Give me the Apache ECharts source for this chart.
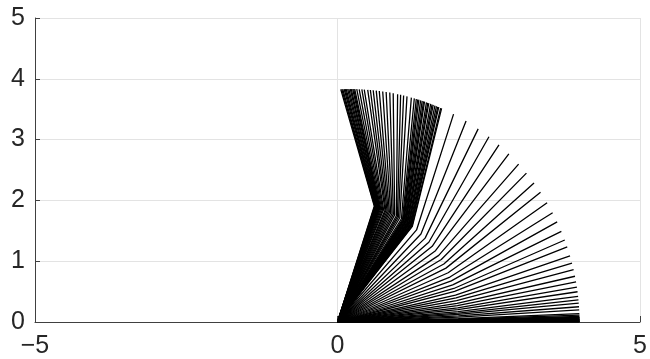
<!DOCTYPE html>
<html>
<head>
<meta charset="utf-8">
<script src="https://cdn.jsdelivr.net/npm/echarts@6/dist/echarts.min.js"></script>
<style>
html,body{margin:0;padding:0;background:#fff;}
#chart{width:650px;height:359px;}
</style>
</head>
<body>
<div id="chart"></div>
<script>
// Two-link arm snapshots (link lengths in data units)
const linkLength1 = 2;
const linkLength2 = 2;
// Joint angles (degrees) for each drawn snapshot
const theta1Deg = [
  72.3, 72.1, 71.9, 71.6, 71.4, 71.2, 70.9, 70.7, 70.4, 70.2, 69.9, 69.7, 69.5,
  69.1, 68.6, 68.1, 67.6, 66.9, 66.4, 65.8, 65.2, 64.6, 63.9, 63.2, 62.5, 61.8, 60.9, 60.3, 59.7, 59.0, 58.1,
  57.5, 57.1, 56.8, 56.6, 56.2, 55.9, 55.6, 55.4, 55.0, 54.7, 54.5, 54.1, 53.8, 53.6, 53.2, 52.9, 52.6, 52.4, 52.0, 51.8,
  49.2, 46.4, 43.6, 41.0, 38.5, 35.9, 33.2, 30.9, 28.5, 26.3, 23.9, 21.7, 19.8, 17.8, 16.0, 14.6, 12.8, 11.4, 10.1, 8.8,
  7.7, 6.7, 5.8, 4.9, 4.2, 3.6, 2.9, 2.3, 1.6, 1.3, 1.05,
  0.9, 0.81, 0.7, 0.61, 0.52, 0.45, 0.38, 0.32, 0.24, 0.16, 0.1, 0.06, 0.02, 0
];
const theta2Deg = [
  33.8, 33.7, 33.6, 33.5, 33.4, 33.3, 33.2, 33.0, 32.9, 32.8, 32.7, 32.6, 32.5,
  32.3, 32.1, 31.8, 31.6, 31.3, 31.0, 30.8, 30.5, 30.2, 29.9, 29.6, 29.2, 28.9, 28.5, 28.2, 27.9, 27.6, 27.2,
  26.9, 26.7, 26.6, 26.4, 26.3, 26.1, 26.0, 25.9, 25.7, 25.6, 25.5, 25.3, 25.2, 25.0, 24.9, 24.7, 24.6, 24.5, 24.3, 24.2,
  23.0, 21.7, 20.4, 19.2, 18.0, 16.8, 15.5, 14.4, 13.3, 12.3, 11.2, 10.2, 9.2, 8.3, 7.5, 6.8, 6.0, 5.3, 4.7, 4.1,
  3.6, 3.1, 2.7, 2.3, 2.0, 1.7, 1.4, 1.1, 0.76, 0.6, 0.49,
  0.42, 0.38, 0.33, 0.28, 0.24, 0.21, 0.18, 0.15, 0.11, 0.08, 0.05, 0.03, 0.01, 0
];
const xTickValues = [-5, 0, 5];
const yTickValues = [0, 1, 2, 3, 4, 5];

const rad = Math.PI / 180;
const series = theta1Deg.map((t1, i) => {
  const a1 = t1 * rad;
  const a12 = (t1 + theta2Deg[i]) * rad;
  const jx = linkLength1 * Math.cos(a1), jy = linkLength1 * Math.sin(a1);
  const ex = jx + linkLength2 * Math.cos(a12), ey = jy + linkLength2 * Math.sin(a12);
  return {
    type: 'line',
    data: [[0, 0], [jx, jy], [ex, ey]],
    symbol: 'none',
    silent: true,
    animation: false,
    lineStyle: { color: '#000', width: 1.3 },
    z: 3
  };
});

const fmt = v => (v < 0 ? '\u2212' + Math.abs(v) : String(v));
const labelFont = { fontFamily: 'Liberation Sans', fontSize: 25, color: '#262626' };

const chart = echarts.init(document.getElementById('chart'), null, { renderer: 'canvas' });
chart.setOption({
  animation: false,
  backgroundColor: '#fff',
  grid: { left: 35, right: 10, top: 18, bottom: 37, containLabel: false, outerBoundsMode: 'none' },
  xAxis: {
    type: 'value', min: xTickValues[0], max: xTickValues[xTickValues.length - 1], interval: 5,
    axisLine: { show: true, onZero: false, lineStyle: { color: '#404040', width: 1 } },
    axisTick: { show: true, inside: true, length: 6, lineStyle: { color: '#404040' } },
    axisLabel: Object.assign({ margin: 12, formatter: fmt }, labelFont),
    splitLine: { show: true, lineStyle: { color: '#e3e3e3', width: 1 } }
  },
  yAxis: {
    type: 'value', min: yTickValues[0], max: yTickValues[yTickValues.length - 1], interval: 1,
    axisLine: { show: true, onZero: false, lineStyle: { color: '#404040', width: 1 } },
    axisTick: { show: true, inside: true, length: 5, lineStyle: { color: '#404040' } },
    axisLabel: Object.assign({ margin: 10, formatter: fmt, padding: [6, 0, 0, 0] }, labelFont),
    splitLine: { show: true, lineStyle: { color: '#e3e3e3', width: 1 } }
  },
  series: series
});
</script>
</body>
</html>
